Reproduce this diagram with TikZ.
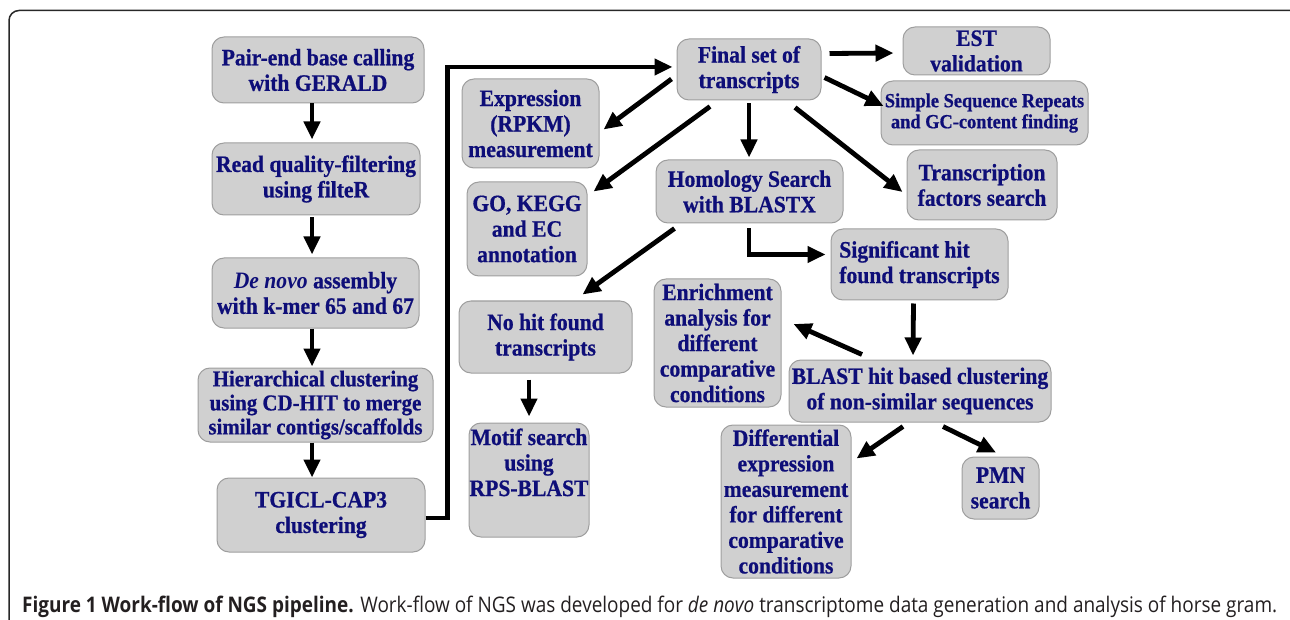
\documentclass[tikz,border=0pt]{standalone}
\usepackage{fontspec}
\setmainfont{Liberation Serif}[FakeStretch=0.92, BoldFeatures={FakeBold=0.7}]
\newfontfamily\capfont{Open Sans}
\usetikzlibrary{arrows.meta,calc}
\definecolor{navytxt}{RGB}{14,14,120}
\definecolor{boxfill}{RGB}{208,208,208}
\definecolor{boxedge}{RGB}{158,158,158}
\definecolor{captxt}{RGB}{35,31,32}
\definecolor{framec}{RGB}{40,40,40}
\tikzset{
  box/.style={draw=boxedge, fill=boxfill, rounded corners=12pt, line width=1pt,
    text=navytxt, font=\bfseries\fontsize{23.5}{25.5}\selectfont, align=center, inner sep=0pt},
  arr/.style={line width=4.8pt, -{Triangle[length=18pt,width=16pt]}},
}
\begin{document}
\begin{tikzpicture}[x=1pt,y=-1pt]
\useasboundingbox (0,0) rectangle (1290,620);
\draw[framec, line width=1.5pt, rounded corners=10pt] (9,620) -- (9,10.5) -- (1290,10.5);

% left column
\node[box, minimum width=212pt, minimum height=66pt] (n1) at (318,70) {Pair-end base calling\\with GERALD};
\node[box, minimum width=208pt, minimum height=72pt] (n2) at (316,179) {Read quality-filtering\\using filteR};
\node[box, minimum width=207pt, minimum height=70pt] (n3) at (315.5,293) {\textit{De novo} assembly\\with k-mer 65 and 67};
\node[box, minimum width=235pt, minimum height=74pt, font=\bfseries\fontsize{22.7}{24}\selectfont] (n4) at (315.5,405) {Hierarchical clustering\\using CD-HIT to merge\\similar contigs/scaffolds};
\node[box, minimum width=208pt, minimum height=74pt] (n5) at (321,515) {TGICL-CAP3\\clustering};

% centre
\node[box, minimum width=144pt, minimum height=61pt] (fin) at (749,69.5) {Final set of\\transcripts};
\node[box, minimum width=137pt, minimum height=89pt] (exp) at (530.5,123.5) {Expression\\(RPKM)\\measurement};
\node[box, minimum width=120pt, minimum height=94pt] (go) at (527,229) {GO, KEGG\\and EC\\annotation};
\node[box, minimum width=187pt, minimum height=63pt] (hom) at (749.5,191.5) {Homology Search\\with BLASTX};
\node[box, minimum width=173pt, minimum height=72pt] (nohit) at (545.5,337) {No hit found\\transcripts};
\node[box, minimum width=120pt, minimum height=114pt] (motif) at (529,480) {Motif search\\using\\RPS-BLAST\\[10pt]};

% right
\node[box, minimum width=147pt, minimum height=48pt] (est) at (976.5,51) {EST\\validation};
\node[box, minimum width=207pt, minimum height=64pt, font=\bfseries\fontsize{20}{21}\selectfont] (ssr) at (984.5,113) {Simple Sequence Repeats\\and GC-content finding};
\node[box, minimum width=150pt, minimum height=70pt] (tf) at (982,185) {Transcription\\factors search};
\node[box, minimum width=177pt, minimum height=71pt, align=left] (sig) at (919.5,264.5) {Significant hit\\found transcripts};
\node[box, minimum width=127pt, minimum height=128pt] (enr) at (717.5,343) {Enrichment\\analysis for\\different\\comparative\\conditions};
\node[box, minimum width=262pt, minimum height=62pt] (blast) at (920,391) {BLAST hit based clustering\\of non-similar sequences};
\node[box, minimum width=130pt, minimum height=153pt] (diff) at (786,501.5) {Differential\\expression\\measurement\\for different\\comparative\\conditions};
\node[box, minimum width=77pt, minimum height=62pt] (pmn) at (1000.5,488) {PMN\\search};

% left column arrows
\draw[arr] ($(n1.south)+(-6,0)$) -- ($(n1.south |- n2.north)+(-6,-3)$);
\draw[arr] ($(n2.south)+(-4,2)$) -- ($(n2.south |- n3.north)+(-4,-3)$);
\draw[arr] ($(n3.south)+(-3.5,0)$) -- ($(n3.south |- n4.north)+(-3.5,-1)$);
\draw[arr] ($(n4.south)+(-3.5,0)$) -- ($(n4.south |- n5.north)+(-3.5,0)$);

% long connector
\draw[arr] ($(n5.east)+(0,3)$) -- ++(22,0) |- ($(fin.west)+(-4,-2.5)$);

% from final set
\draw[arr] ($(fin.east)+(8,-16)$) -- ($(est.west)+(-9,2)$);
\draw[arr] ($(fin.east)+(3,8)$) -- ($(ssr.west)+(3,-7)$);
\draw[arr] ($(fin.south)+(46,7)$) -- ($(tf.west)+(-4,7)$);
\draw[arr] ($(fin.south)+(0,3)$) -- ($(hom.north)+(-0.5,-2)$);
\draw[arr] ($(fin.west)+(-5,9.5)$) -- ($(exp.east)+(4,6)$);
\draw[arr] ($(fin.south)+(-39,6)$) -- ($(go.north east)+(6,10)$);

% from homology
\draw[arr] ($(hom.south)+(-75,5)$) -- ($(nohit.north)+(37,-6)$);
\draw[arr] ($(hom.south)+(-0.5,5)$) |- ($(sig.west)+(-5,-10)$);
\draw[arr] ($(motif.north |- nohit.south)+(0,6)$) -- ($(motif.north)+(0,-6)$);

% from significant / blast
\draw[arr] ($(sig.south)+(-6,3)$) -- ($(blast.north)+(-7,-4)$);
\draw[arr] ($(blast.north)+(-58,-5)$) -- ($(enr.east)+(12,-19)$);
\draw[arr] ($(blast.south)+(-17,4)$) -- ($(diff.north east)+(5,34)$);
\draw[arr] ($(blast.south)+(23,4)$) -- ($(pmn.north)+(-4.5,-4)$);

% caption
\node[anchor=base west, inner sep=0pt, text=captxt] (cap) at (22,612)
  {\resizebox{1255pt}{\height}{\capfont\fontsize{21.5}{24}\selectfont\textbf{Figure 1 Work-flow of NGS pipeline.} Work-flow of NGS was developed for \textit{de novo} transcriptome data generation and analysis of horse gram.}};
\end{tikzpicture}
\end{document}
